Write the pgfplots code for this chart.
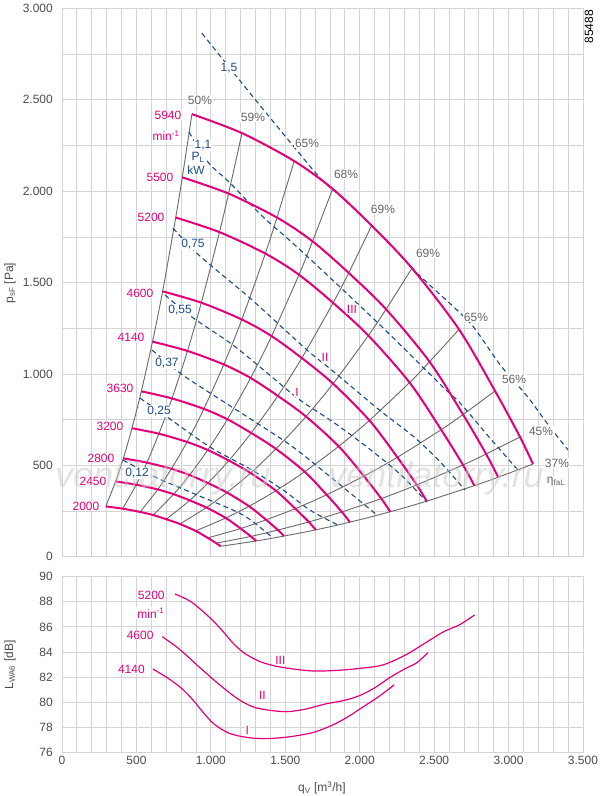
\documentclass[border=0pt]{standalone}
\usepackage{fontspec}
\setmainfont{Liberation Sans}
\usepackage{pgfplots}
\pgfplotsset{compat=1.18}
\definecolor{mag}{RGB}{228,0,120}
\definecolor{pblue}{RGB}{25,75,140}
\definecolor{lgray}{RGB}{105,105,105}
\definecolor{gridc}{RGB}{212,212,212}
\definecolor{tcol}{RGB}{75,75,75}
\definecolor{pcol}{RGB}{100,100,100}
\tikzset{
  spd/.style={text=mag, fill=white, inner sep=1pt},
  pct/.style={text=pcol, fill=white, inner sep=1pt},
  pw/.style={text=pblue, fill=white, inner sep=1pt},
  sc/.style={mag, line width=2pt, smooth},
  gl/.style={lgray, line width=0.9pt, smooth},
  pl/.style={pblue, line width=1.1pt, dash pattern=on 5pt off 3.5pt, smooth}
}
\pgfplotsset{
  base/.style={scale only axis, width=521pt, xmin=0, xmax=3500, clip=false,
    axis line style={draw=gridc, line width=0.8pt},
    grid=both, major grid style={draw=gridc,line width=0.8pt},
    minor grid style={draw=gridc,line width=0.8pt},
    major tick length=0pt, minor tick length=0pt,
    xtick={0,500,...,3500}, minor xtick={0,100,...,3500},
    /pgf/number format/1000 sep={.},
    /pgf/number format/assume math mode=true,
    ticklabel style={text=tcol},
    yticklabel style={xshift=-5pt}}
}
\begin{document}
\fontsize{12}{14}\selectfont
\begin{tikzpicture}
\useasboundingbox (0pt,0pt) rectangle (600pt,796pt);
\begin{axis}[base, at={(62pt,239.3pt)}, anchor=south west, height=548.2pt,
  ymin=0, ymax=3000, ytick={0,500,...,3000}, minor ytick={250,750,...,2750},
  xticklabels={}]
% gray constant-efficiency lines
\addplot[gl] coordinates {(294,275)(360,412)(412,538)(470,703)(533,905)(608,1177)(676,1452)(764,1856)(808,2076)(873,2422)};
\addplot[gl] coordinates {(407,263)(499,394)(570,515)(651,673)(739,866)(843,1126)(936,1390)(1058,1776)(1119,1987)(1209,2318)};
\addplot[gl] coordinates {(525,245)(643,368)(735,481)(840,628)(953,809)(1087,1052)(1208,1298)(1366,1659)(1444,1856)(1560,2165)};
\addplot[gl] coordinates {(612,228)(750,342)(857,447)(979,584)(1111,752)(1267,978)(1408,1207)(1592,1543)(1683,1726)(1818,2013)};
\addplot[gl] coordinates {(700,205)(858,308)(980,403)(1121,526)(1271,677)(1450,880)(1611,1087)(1821,1389)(1926,1553)(2080,1812)};
\addplot[gl] coordinates {(792,179)(970,269)(1108,351)(1267,458)(1437,590)(1639,767)(1821,947)(2058,1210)(2177,1354)(2351,1579)};
\addplot[gl] coordinates {(898,141)(1100,212)(1257,276)(1437,361)(1630,465)(1859,604)(2065,746)(2335,953)(2469,1067)(2667,1244)};
\addplot[gl] coordinates {(979,103)(1200,154)(1371,202)(1567,263)(1778,339)(2028,441)(2253,544)(2547,695)(2694,778)(2909,907)};
\addplot[gl] coordinates {(1036,74)(1269,111)(1450,146)(1658,190)(1880,245)(2145,318)(2383,393)(2694,502)(2849,562)(3077,655)};
\addplot[gl] coordinates {(1065,57)(1305,86)(1491,113)(1705,147)(1934,189)(2205,246)(2450,304)(2770,389)(2930,435)(3164,507)};
% dashed power lines
\addplot[pl] coordinates {(940,2865)(1236,2564)(1532,2269)(1747,2061)(1901,1951)(2156,1752)(2385,1552)(2660,1345)(2775,1246)(2949,1044)(3124,879)(3258,731)(3399,584)};
\addplot[pl] coordinates {(853,2324)(981,2159)(1129,2045)(1350,1860)(1599,1680)(2116,1284)(2560,928)(2674,841)(2875,649)(3063,474)};
\addplot[pl] coordinates {(746,1798)(927,1645)(1263,1415)(1646,1131)(1814,1020)(2136,800)(2358,660)(2539,520)(2707,365)};
\addplot[pl] coordinates {(692,1432)(873,1311)(1149,1158)(1411,983)(1599,857)(1821,737)(2049,600)(2271,452)(2452,299)};
\addplot[pl] coordinates {(605,1131)(793,1005)(994,896)(1310,731)(1552,600)(1821,425)(2116,228)};
\addplot[pl] coordinates {(524,868)(726,753)(994,600)(1263,480)(1485,365)(1666,255)(1854,173)};
\addplot[pl] coordinates {(410,529)(638,431)(907,338)(1216,228)(1417,102)};
% speed curves
\addplot[sc] coordinates {(873,2422)(1209,2318)(1560,2165)(1818,2013)(2080,1812)(2351,1579)(2667,1244)(2909,907)(3077,655)(3164,507)};
\addplot[sc] coordinates {(808,2076)(1119,1987)(1444,1856)(1683,1726)(1926,1553)(2177,1354)(2469,1067)(2694,778)(2849,562)(2930,435)};
\addplot[sc] coordinates {(764,1856)(1058,1776)(1366,1659)(1592,1543)(1821,1389)(2058,1210)(2335,953)(2547,695)(2694,502)(2770,389)};
\addplot[sc] coordinates {(676,1452)(936,1390)(1208,1298)(1408,1207)(1611,1087)(1821,947)(2065,746)(2253,544)(2383,393)(2450,304)};
\addplot[sc] coordinates {(608,1177)(843,1126)(1087,1052)(1267,978)(1450,880)(1639,767)(1859,604)(2028,441)(2145,318)(2205,246)};
\addplot[sc] coordinates {(533,905)(739,866)(953,809)(1111,752)(1271,677)(1437,590)(1630,465)(1778,339)(1880,245)(1934,189)};
\addplot[sc] coordinates {(470,703)(651,673)(840,628)(979,584)(1121,526)(1267,458)(1437,361)(1567,263)(1658,190)(1705,147)};
\addplot[sc] coordinates {(412,538)(570,515)(735,481)(857,447)(980,403)(1108,351)(1257,276)(1371,202)(1450,146)(1491,113)};
\addplot[sc] coordinates {(360,412)(499,394)(643,368)(750,342)(858,308)(970,269)(1100,212)(1200,154)(1269,111)(1305,86)};
\addplot[sc] coordinates {(294,275)(407,263)(525,245)(612,228)(700,205)(792,179)(898,141)(979,103)(1036,74)(1065,57)};
% watermark
\node[text=black!22, opacity=0.5, font=\fontsize{36}{40}\selectfont\itshape] at (axis cs:679,431) {ventilatorry.ru};
\node[text=black!22, opacity=0.5, font=\fontsize{36}{40}\selectfont\itshape] at (axis cs:2513,431) {ventilatorry.ru};
% efficiency labels
\node[pct] at (axis cs:927,2499) {50\%};
\node[pct] at (axis cs:1283,2406) {59\%};
\node[pct] at (axis cs:1646,2263) {65\%};
\node[pct] at (axis cs:1908,2094) {68\%};
\node[pct] at (axis cs:2156,1902) {69\%};
\node[pct] at (axis cs:2459,1662) {69\%};
\node[pct] at (axis cs:2781,1311) {65\%};
\node[pct] at (axis cs:3037,972) {56\%};
\node[pct] at (axis cs:3218,688) {45\%};
\node[pct] at (axis cs:3325,513) {37\%};
\node[pct] at (axis cs:3319,410) {η\textsubscript{\fontsize{8}{9}\selectfont faL}};
% speed labels
\node[spd] at (axis cs:712,2417) {5940};
\node[spd] at (axis cs:699,2302) {min\textsuperscript{-1}};
\node[spd] at (axis cs:658,2077) {5500};
\node[spd] at (axis cs:598,1859) {5200};
\node[spd] at (axis cs:524,1443) {4600};
\node[spd] at (axis cs:464,1202) {4140};
\node[spd] at (axis cs:390,923) {3630};
\node[spd] at (axis cs:322,715) {3200};
\node[spd] at (axis cs:262,540) {2800};
\node[spd] at (axis cs:208,414) {2450};
\node[spd] at (axis cs:161,277) {2000};
% power labels
\node[pw] at (axis cs:1122,2674) {1,5};
\node[pw] at (axis cs:947,2252) {1,1};
\node[pw] at (axis cs:914,2184) {P\textsubscript{\fontsize{8}{9}\selectfont L}};
\node[pw] at (axis cs:900,2116) {kW};
\node[pw] at (axis cs:880,1711) {0,75};
\node[pw] at (axis cs:793,1350) {0,55};
\node[pw] at (axis cs:705,1060) {0,37};
\node[pw] at (axis cs:652,797) {0,25};
\node[pw] at (axis cs:504,458) {0,12};
% roman
\node[spd] at (axis cs:1948,1355) {III};
\node[spd] at (axis cs:1767,1093) {II};
\node[spd] at (axis cs:1579,901) {I};
% axis label and number
\node[rotate=90, text=tcol] at (rel axis cs:-0.0998,0.499) {p\textsubscript{\fontsize{8}{9}\selectfont sF} [Pa]};
\node[rotate=90, text=black, font=\fontsize{12}{14}\selectfont] at (rel axis cs:1.0115,0.9663) {85488};
\end{axis}
\begin{axis}[base, at={(62pt,43.7pt)}, anchor=south west, height=175.6pt,
  ymin=76, ymax=90, ytick={76,78,...,90}]
\addplot[mag, line width=1.2pt, smooth] coordinates {(759,88.62)(867,88.0)(991,86.76)(1073,85.75)(1150,84.69)(1227,83.89)(1330,83.23)(1433,82.88)(1536,82.67)(1690,82.48)(1845,82.53)(1999,82.69)(2154,82.96)(2308,83.76)(2437,84.69)(2565,85.62)(2668,86.15)(2771,86.94)};
\addplot[mag, line width=1.2pt, smooth] coordinates {(674,85.22)(790,84.21)(919,82.83)(1047,81.50)(1176,80.30)(1279,79.64)(1382,79.37)(1510,79.24)(1639,79.45)(1768,79.85)(1896,80.14)(1999,80.52)(2102,81.15)(2205,81.98)(2308,82.69)(2385,83.15)(2457,83.94)};
\addplot[mag, line width=1.2pt, smooth] coordinates {(610,82.64)(713,81.90)(803,81.10)(880,80.17)(944,79.24)(1021,78.26)(1124,77.51)(1253,77.17)(1382,77.09)(1536,77.25)(1690,77.59)(1819,78.18)(1922,78.84)(2025,79.64)(2128,80.44)(2231,81.37)};
\node[spd] at (axis cs:600,88.54) {5200};
\node[spd] at (axis cs:597,87.08) {min\textsuperscript{-1}};
\node[spd] at (axis cs:525,85.35) {4600};
\node[spd] at (axis cs:466,82.64) {4140};
\node[spd] at (axis cs:1467,83.36) {III};
\node[spd] at (axis cs:1346,80.57) {II};
\node[spd] at (axis cs:1245,77.73) {I};
\node[rotate=90, text=tcol] at (rel axis cs:-0.0998,0.497) {L\textsubscript{\fontsize{8}{9}\selectfont WA6} [dB]};
\node[text=tcol] at (rel axis cs:0.499,-0.203) {q\textsubscript{\fontsize{8}{9}\selectfont V} [m\textsuperscript{3}/h]};
\end{axis}
\end{tikzpicture}
\end{document}
